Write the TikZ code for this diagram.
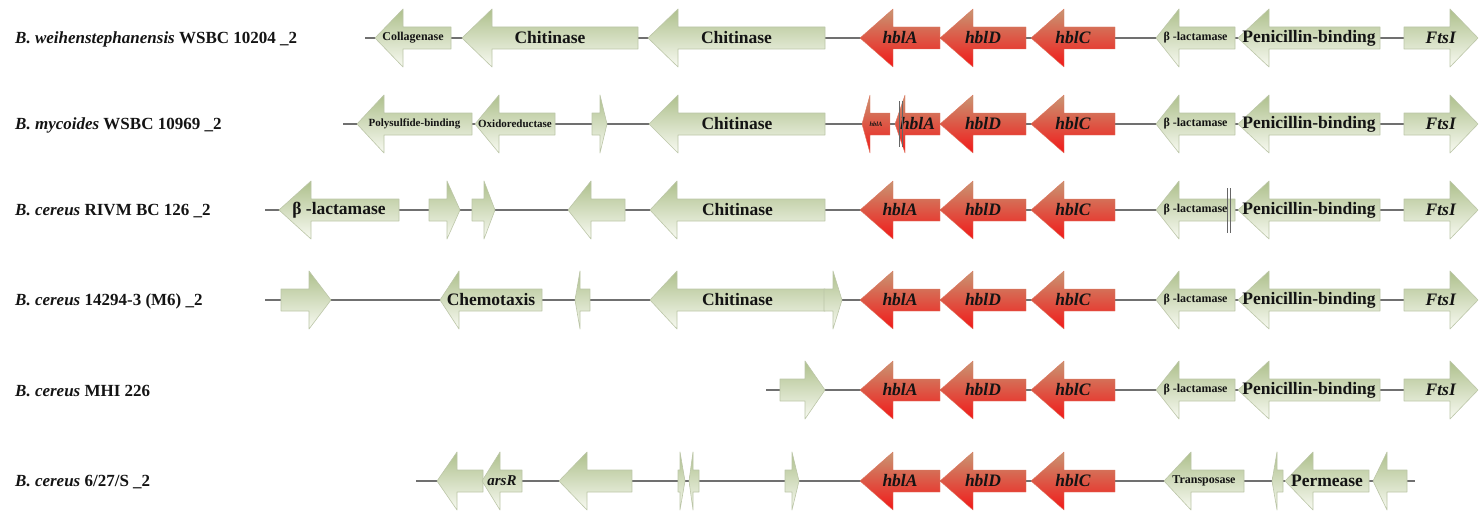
\documentclass[tikz,border=0pt]{standalone}
\usepackage{fontspec}
\setmainfont{Liberation Serif}

\definecolor{paletop}{RGB}{174,192,140}
\definecolor{palebot}{RGB}{248,250,242}
\definecolor{paleline}{RGB}{188,198,168}
\definecolor{hbltop}{RGB}{200,150,115}
\definecolor{hblbot}{RGB}{242,24,24}
\definecolor{hblline}{RGB}{222,118,96}
\definecolor{spinegray}{RGB}{112,112,112}

\newcommand{\geneL}[8]{%
  \path[#6] (#2,#5) -- (#3,#5-29) -- (#3,#5-11) -- (#4,#5-11) -- (#4,#5+11) -- (#3,#5+11) -- (#3,#5+29) -- cycle;
  \node[#7] (#1) at ({(#2+#4)/2},#5) {#8};}
\newcommand{\geneR}[8]{%
  \path[#6] (#2,#5-11) -- (#3,#5-11) -- (#3,#5-29) -- (#4,#5) -- (#3,#5+29) -- (#3,#5+11) -- (#2,#5+11) -- cycle;
  \node[#7] (#1) at ({(#2+#4)/2},#5) {#8};}

\begin{document}
\begin{tikzpicture}[x=1pt,y=-1pt]
        \tikzstyle{every node}=[inner sep=0pt, text=black!92]
        \tikzstyle{pale}=[top color=paletop, bottom color=palebot, draw=paleline, line width=0.6pt, line join=round]
        \tikzstyle{hbl}=[top color=hbltop, bottom color=hblbot, draw=hblline, line width=0.4pt, line join=round]
        \tikzstyle{lbig}=[font=\bfseries\fontsize{17.5}{17.5}\selectfont]
        \tikzstyle{lsmall}=[font=\bfseries\fontsize{12}{12}\selectfont]
        \tikzstyle{lxsmall}=[font=\bfseries\fontsize{11}{11}\selectfont]
        \tikzstyle{ltiny}=[font=\bfseries\itshape\fontsize{6.5}{6.5}\selectfont]
        \tikzstyle{strain}=[anchor=west, font=\bfseries\fontsize{17}{17}\selectfont]
        \tikzstyle{spine}=[draw=spinegray, line width=1.2pt]
        \tikzstyle{cut}=[draw=black!60, line width=0.9pt]

        \useasboundingbox (0,0) rectangle (1481,511);

        \node[strain] (s1) at (15,39) {\textit{B. weihenstephanensis} WSBC 10204 \_2};
        \node[strain] (s2) at (15,125) {\textit{B. mycoides} WSBC 10969 \_2};
        \node[strain] (s3) at (15,211) {\textit{B. cereus} RIVM BC 126 \_2};
        \node[strain] (s4) at (15,301) {\textit{B. cereus} 14294-3 (M6) \_2};
        \node[strain] (s5) at (15,391) {\textit{B. cereus} MHI 226};
        \node[strain] (s6) at (15,482) {\textit{B. cereus} 6/27/S \_2};

        \coordinate (b1s) at (365,38);  \coordinate (b1e) at (1470,38);
        \coordinate (b2s) at (343,124); \coordinate (b2e) at (1470,124);
        \coordinate (b3s) at (265,210); \coordinate (b3e) at (1470,210);
        \coordinate (b4s) at (265,300); \coordinate (b4e) at (1470,300);
        \coordinate (b5s) at (766,390); \coordinate (b5e) at (1470,390);
        \coordinate (b6s) at (416,481); \coordinate (b6e) at (1415,481);
        \foreach \r in {1,...,6}
            \draw[spine] (b\r s) -- (b\r e);

        \foreach \r/\y in {1/38,2/124,3/210,4/300,5/390,6/481}{
            \geneL{hblD\r}{940}{973}{1026}{\y}{hbl}{lbig}{\textit{hblD}}
            \geneL{hblC\r}{1031}{1064}{1115}{\y}{hbl}{lbig}{\textit{hblC}}
        }
        \foreach \r/\y in {1/38,3/210,4/300,5/390,6/481}
            \geneL{hblA\r}{860}{893}{940}{\y}{hbl}{lbig}{\textit{hblA}};
        \foreach \r/\y in {1/38,2/124,3/210,4/300,5/390}{
            \geneL{bla\r}{1156}{1179}{1235}{\y}{pale}{lsmall}{β -lactamase}
            \geneL{pbp\r}{1238}{1269}{1380}{\y}{pale}{lbig}{Penicillin-binding}
            \geneR{fts\r}{1404}{1450}{1478}{\y}{pale}{lbig}{\textit{FtsI}}
        }

        \geneL{coll1}{375}{403}{451}{38}{pale}{lsmall}{Collagenase}
        \geneL{chiA1}{462}{492}{638}{38}{pale}{lbig}{Chitinase}
        \geneL{chiB1}{648}{678}{825}{38}{pale}{lbig}{Chitinase}

        \geneL{poly2}{357}{384}{472}{124}{pale}{lxsmall}{Polysulfide-binding}
        \geneL{oxi2}{475}{499}{555}{124}{pale}{lxsmall}{Oxidoreductase}
        \geneR{orfA2}{592}{600}{607}{124}{pale}{lsmall}{}
        \geneL{chi2}{649}{678}{825}{124}{pale}{lbig}{Chitinase}
        \geneL{hblAa2}{862}{870}{890}{124}{hbl}{ltiny}{hblA}
        \geneL{hblAb2}{895}{905}{940}{124}{hbl}{lbig}{\textit{hblA}}
        \draw[cut] (899,101) -- (899,147);
        \draw[cut] (902.5,101) -- (902.5,147);

        \geneL{bla3x}{279}{311}{399}{210}{pale}{lbig}{β -lactamase}
        \geneR{orfA3}{429}{447}{460}{210}{pale}{lsmall}{}
        \geneR{orfB3}{472}{484}{495}{210}{pale}{lsmall}{}
        \geneL{orfC3}{568}{591}{625}{210}{pale}{lsmall}{}
        \geneL{chi3}{650}{677}{825}{210}{pale}{lbig}{Chitinase}
        \draw[cut] (1227,188) -- (1227,233);
        \draw[cut] (1230.5,188) -- (1230.5,233);

        \geneR{orfA4}{281}{309}{331}{300}{pale}{lsmall}{}
        \geneL{che4}{440}{459}{542}{300}{pale}{lbig}{Chemotaxis}
        \geneL{orfB4}{575}{580}{590}{300}{pale}{lsmall}{}
        \geneL{chi4}{650}{677}{825}{300}{pale}{lbig}{Chitinase}
        \geneR{orfC4}{824}{833}{842}{300}{pale}{lsmall}{}

        \geneR{orfA5}{780}{805}{825}{390}{pale}{lsmall}{}

        \geneL{orfA6}{437}{457}{483}{481}{pale}{lsmall}{}
        \geneL{ars6}{482}{500}{522}{481}{pale}{lbig}{\itshape\fontsize{15}{15}\selectfont arsR}
        \geneL{orfB6}{559}{587}{632}{481}{pale}{lsmall}{}
        \geneR{orfC6}{678}{680}{685}{481}{pale}{lsmall}{}
        \geneL{orfD6}{689}{693}{699}{481}{pale}{lsmall}{}
        \geneR{orfE6}{785}{792}{799}{481}{pale}{lsmall}{}
        \geneL{tra6}{1164}{1191}{1244}{481}{pale}{lsmall}{Transposase}
        \geneL{orfF6}{1272}{1277}{1283}{481}{pale}{lsmall}{}
        \geneL{per6}{1285}{1313}{1369}{481}{pale}{lbig}{Permease}
        \geneL{orfG6}{1373}{1387}{1407}{481}{pale}{lsmall}{}
\end{tikzpicture}
\end{document}
